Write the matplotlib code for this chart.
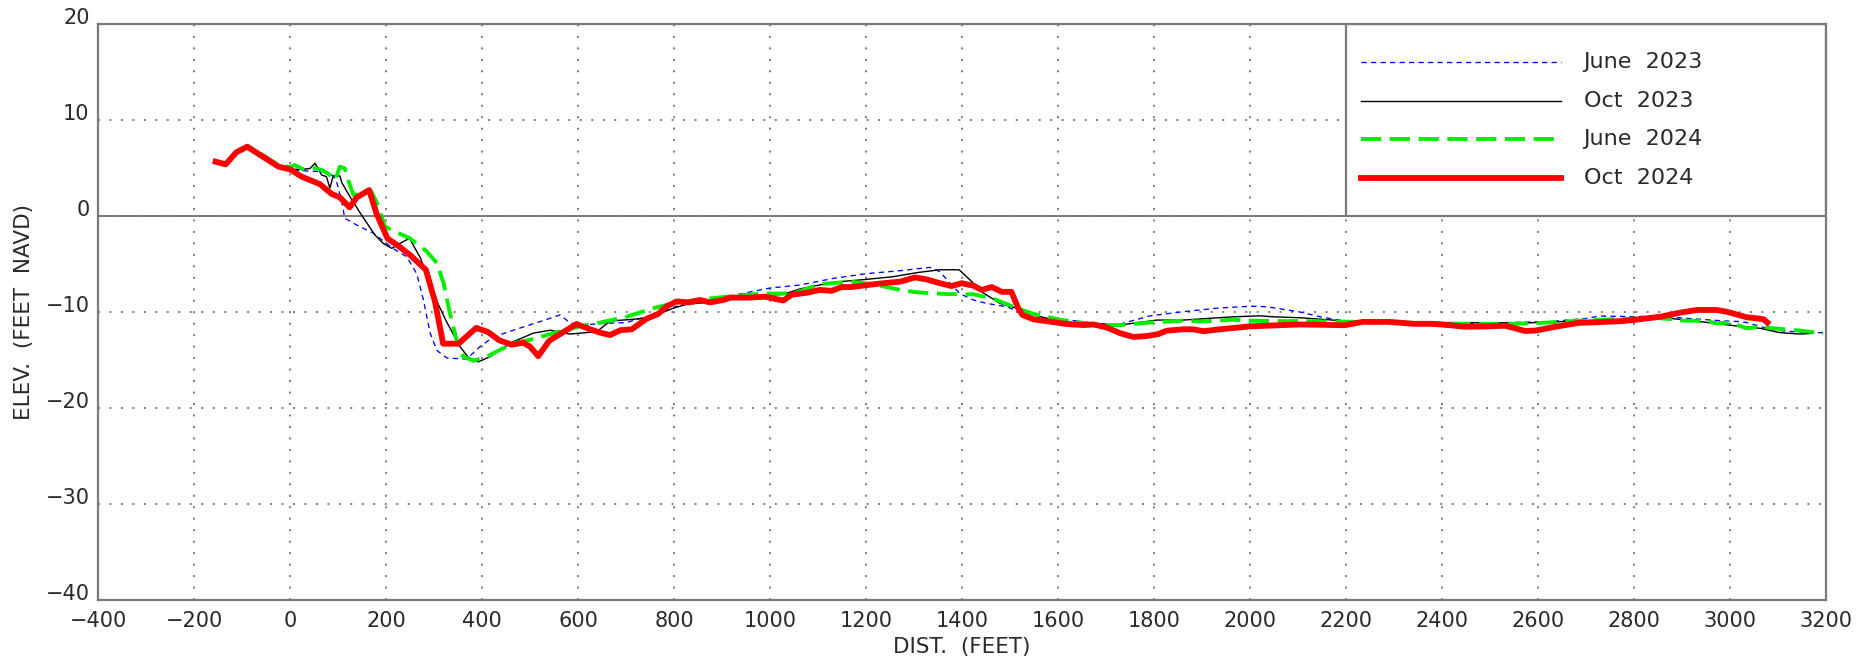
import matplotlib
matplotlib.use("Agg")
import matplotlib.pyplot as plt
from matplotlib.patches import Rectangle

# ---------------- data ----------------
jun23_x = [-62, -24, 0, 30, 69, 90, 97, 108, 114, 139, 174, 215, 243, 264, 278, 292, 306, 327,
           368, 396, 424, 465, 521, 563, 580, 600, 650, 700, 750, 800, 850, 900, 950, 1000,
           1062, 1132, 1201, 1271, 1333, 1354, 1375, 1396, 1424, 1451, 1493, 1549, 1618,
           1722, 1792, 1861, 1931, 2000, 2035, 2104, 2149, 2197, 2300, 2450, 2625, 2700,
           2729, 2799, 2840, 2910, 2979, 3021, 3035, 3076, 3104, 3160, 3194]
jun23_y = [6.5, 5.2, 4.8, 4.7, 4.6, 4.2, 3.6, 1.5, -0.24, -0.94, -1.8, -3.4, -4.24, -6.0, -8.75,
           -12.2, -14.0, -14.8, -14.9, -13.6, -12.6, -11.9, -11.0, -10.3, -11.0, -11.4, -11.2,
           -11.1, -10.4, -9.5, -8.8, -8.5, -8.0, -7.5, -7.19, -6.5, -6.0, -5.7, -5.35, -5.8,
           -7.0, -8.1, -8.75, -9.1, -9.45, -10.56, -10.83, -11.36, -10.4, -9.97, -9.6, -9.4,
           -9.45, -10.0, -10.53, -10.93, -11.1, -11.2, -11.0, -10.67, -10.42, -10.49, -10.42,
           -10.66, -10.9, -11.0, -11.1, -11.7, -11.94, -12.15, -12.15]

oct23_x = [-62, -24, 0, 28, 42, 52, 66, 76, 83, 90, 104, 108, 125, 149, 177, 194, 212, 229,
           249, 272, 298, 326, 354, 371, 392, 417, 437, 465, 507, 542, 583, 639, 667, 715,
           750, 799, 826, 889, 958, 1028, 1062, 1132, 1201, 1257, 1306, 1354, 1394, 1417,
           1441, 1479, 1514, 1549, 1604, 1667, 1729, 1806, 1861, 1965, 2021, 2049, 2104,
           2197, 2400, 2580, 2700, 2848, 2875, 2938, 3007, 3063, 3104, 3146, 3174]
oct23_y = [6.5, 5.2, 4.86, 4.86, 4.96, 5.5, 4.27, 4.1, 2.9, 4.17, 4.17, 3.47, 2.0, 0.1, -1.98,
           -2.85, -3.37, -2.85, -2.33, -4.4, -8.05, -11.0, -13.6, -14.7, -15.2, -14.65,
           -13.96, -13.1, -12.2, -11.9, -12.3, -12.05, -10.94, -10.76, -10.56, -9.6, -9.2,
           -8.9, -8.4, -8.16, -7.6, -6.9, -6.6, -6.32, -5.9, -5.6, -5.6, -6.67, -7.9, -9.1,
           -9.6, -10.3, -11.0, -11.25, -11.36, -10.84, -10.84, -10.5, -10.4, -10.5, -10.6,
           -10.93, -11.1, -11.13, -10.9, -10.68, -10.66, -11.0, -11.42, -11.7, -12.15,
           -12.3, -12.22]

jun24_x = [-62, -24, 0, 10, 28, 49, 66, 80, 94, 104, 114, 121, 132, 156, 170, 180, 198, 219,
           250, 285, 306, 320, 333, 347, 361, 382, 410, 437, 465, 500, 535, 604, 646, 701,
           757, 799, 854, 924, 979, 1049, 1104, 1167, 1215, 1271, 1306, 1368, 1424, 1465,
           1514, 1549, 1604, 1687, 1729, 1792, 1861, 1896, 1965, 2000, 2035, 2104, 2193,
           2327, 2424, 2551, 2610, 2700, 2774, 2848, 2882, 2903, 2951, 2972, 3000, 3035,
           3063, 3090, 3146, 3194]
jun24_y = [6.53, 5.3, 5.1, 5.3, 4.86, 5.0, 4.8, 4.4, 3.75, 5.14, 4.97, 3.75, 2.2, 2.36, 2.5,
           1.5, -1.1, -1.63, -2.33, -3.7, -4.9, -7.0, -10.1, -12.9, -14.65, -15.07, -14.65,
           -13.96, -13.26, -12.9, -12.4, -11.5, -11.1, -10.5, -9.6, -9.1, -8.7, -8.33, -8.1,
           -8.06, -7.1, -6.84, -7.1, -7.7, -7.95, -8.13, -8.16, -8.6, -9.6, -10.2, -10.8,
           -11.36, -11.36, -11.1, -10.9, -11.0, -10.8, -10.9, -10.94, -10.95, -11.0, -11.13,
           -11.23, -11.23, -11.13, -10.86, -10.73, -10.63, -10.76, -10.9, -10.94, -11.18,
           -11.1, -11.7, -11.53, -11.7, -11.94, -12.22]

oct24_x = [-155, -134, -112, -89, -62, -24, 0, 24, 62, 87, 104, 124, 139, 165, 180, 203, 226,
           250, 283, 302, 319, 351, 388, 413, 436, 462, 486, 500, 517, 540, 566, 597, 625,
           646, 667, 688, 712, 743, 767, 785, 806, 830, 854, 875, 903, 917, 958, 990, 1007,
           1028, 1045, 1076, 1104, 1128, 1149, 1170, 1201, 1236, 1271, 1302, 1326, 1354,
           1378, 1399, 1424, 1441, 1462, 1483, 1503, 1517, 1526, 1549, 1583, 1618, 1653,
           1674, 1701, 1729, 1757, 1785, 1809, 1826, 1861, 1882, 1903, 1937, 2000, 2069,
           2104, 2149, 2197, 2234, 2290, 2342, 2380, 2417, 2447, 2491, 2532, 2551, 2573,
           2595, 2640, 2685, 2729, 2774, 2799, 2854, 2896, 2931, 2972, 2993, 3035, 3056,
           3070, 3078]
oct24_y = [5.66, 5.38, 6.63, 7.22, 6.35, 5.14, 4.86, 4.1, 3.33, 2.29, 1.94, 0.9, 1.94, 2.7,
           0.28, -2.33, -3.13, -4.06, -5.6, -8.9, -13.3, -13.3, -11.65, -12.1, -12.95, -13.4,
           -13.2, -13.6, -14.6, -13.0, -12.2, -11.25, -11.8, -12.15, -12.4, -11.9, -11.8,
           -10.7, -10.2, -9.4, -8.9, -9.0, -8.75, -9.0, -8.75, -8.5, -8.5, -8.4, -8.6, -8.8,
           -8.2, -8.0, -7.7, -7.8, -7.4, -7.4, -7.2, -7.0, -6.84, -6.4, -6.6, -7.0, -7.3,
           -7.0, -7.26, -7.7, -7.4, -7.9, -7.9, -9.6, -10.3, -10.77, -11.0, -11.25, -11.36,
           -11.3, -11.6, -12.2, -12.6, -12.5, -12.3, -11.95, -11.8, -11.8, -12.0, -11.8,
           -11.5, -11.36, -11.3, -11.33, -11.38, -11.03, -11.03, -11.23, -11.23, -11.38,
           -11.53, -11.5, -11.43, -11.68, -11.98, -11.93, -11.5, -11.13, -11.05, -10.95,
           -10.83, -10.5, -10.07, -9.79, -9.79, -9.97, -10.55, -10.66, -10.76, -11.1]

series_labels = ["June  2023", "Oct  2023", "June  2024", "Oct  2024"]
x_ticks = list(range(-400, 3201, 200))
y_ticks = list(range(-40, 21, 10))


def fmt(v):
    return str(v).replace("-", "\u2212")


# ---------------- figure ----------------
TXT = "#2a2a2a"
GRAY = "#7a7a7a"
fig = plt.figure(figsize=(18.6, 6.7), dpi=100)
ax = fig.add_axes([98 / 1860, 1 - 600 / 670, (1826 - 98) / 1860, (600 - 24) / 670])
ax.set_xlim(-400, 3200)
ax.set_ylim(-40, 20)

ax.set_xticks(x_ticks)
ax.set_yticks(y_ticks)
ax.set_xticklabels([fmt(v) for v in x_ticks])
ax.set_yticklabels([fmt(v) for v in y_ticks])
ax.tick_params(axis="both", length=0, labelsize=15, labelcolor=TXT)
ax.tick_params(axis="x", pad=8)
ax.tick_params(axis="y", pad=6)
for lab in ax.get_yticklabels():
    lab.set_verticalalignment("baseline")

for s in ax.spines.values():
    s.set_color(GRAY)
    s.set_linewidth(1.6)

ax.set_axisbelow(True)
ax.grid(True, color=GRAY, linewidth=1.4, linestyle=(0, (1, 4.9)))
ax.axhline(0, color=GRAY, linewidth=1.4, zorder=1.2)

ax.set_xlabel("DIST.  (FEET)", fontsize=15.5, color=TXT, labelpad=4)
ax.set_ylabel("ELEV.  (FEET  NAVD)", fontsize=15.5, color=TXT)
ax.yaxis.set_label_coords(-(98 - 34) / 1728, 0.5)

styles = [
    dict(color="#0000ff", linewidth=0.95, linestyle=(0, (4.0, 3.2))),
    dict(color="#000000", linewidth=1.0, linestyle="-"),
    dict(color="#00ee00", linewidth=2.8, linestyle=(0, (5.2, 2.2))),
    dict(color="#ff0000", linewidth=4.2, linestyle="-", solid_joinstyle="round"),
]
data = [(jun23_x, jun23_y), (oct23_x, oct23_y), (jun24_x, jun24_y), (oct24_x, oct24_y)]
for k, ((xs, ys), st) in enumerate(zip(data, styles)):
    ax.plot(xs, ys, zorder=3 + k, **st)

# legend box (top-right, in data space)
ax.add_patch(Rectangle((2200, 0), 1000, 20, facecolor="white", edgecolor=GRAY,
                       linewidth=1.6, zorder=1.5))
rows = [16, 12, 8, 4]
for lab, st, yy in zip(series_labels, styles, rows):
    ax.plot([2231, 2647], [yy, yy], zorder=10, **st)
    ax.text(2695, yy, lab, fontsize=16, color=TXT, va="center", ha="left", zorder=10)

fig.savefig("out.png", dpi=100)
